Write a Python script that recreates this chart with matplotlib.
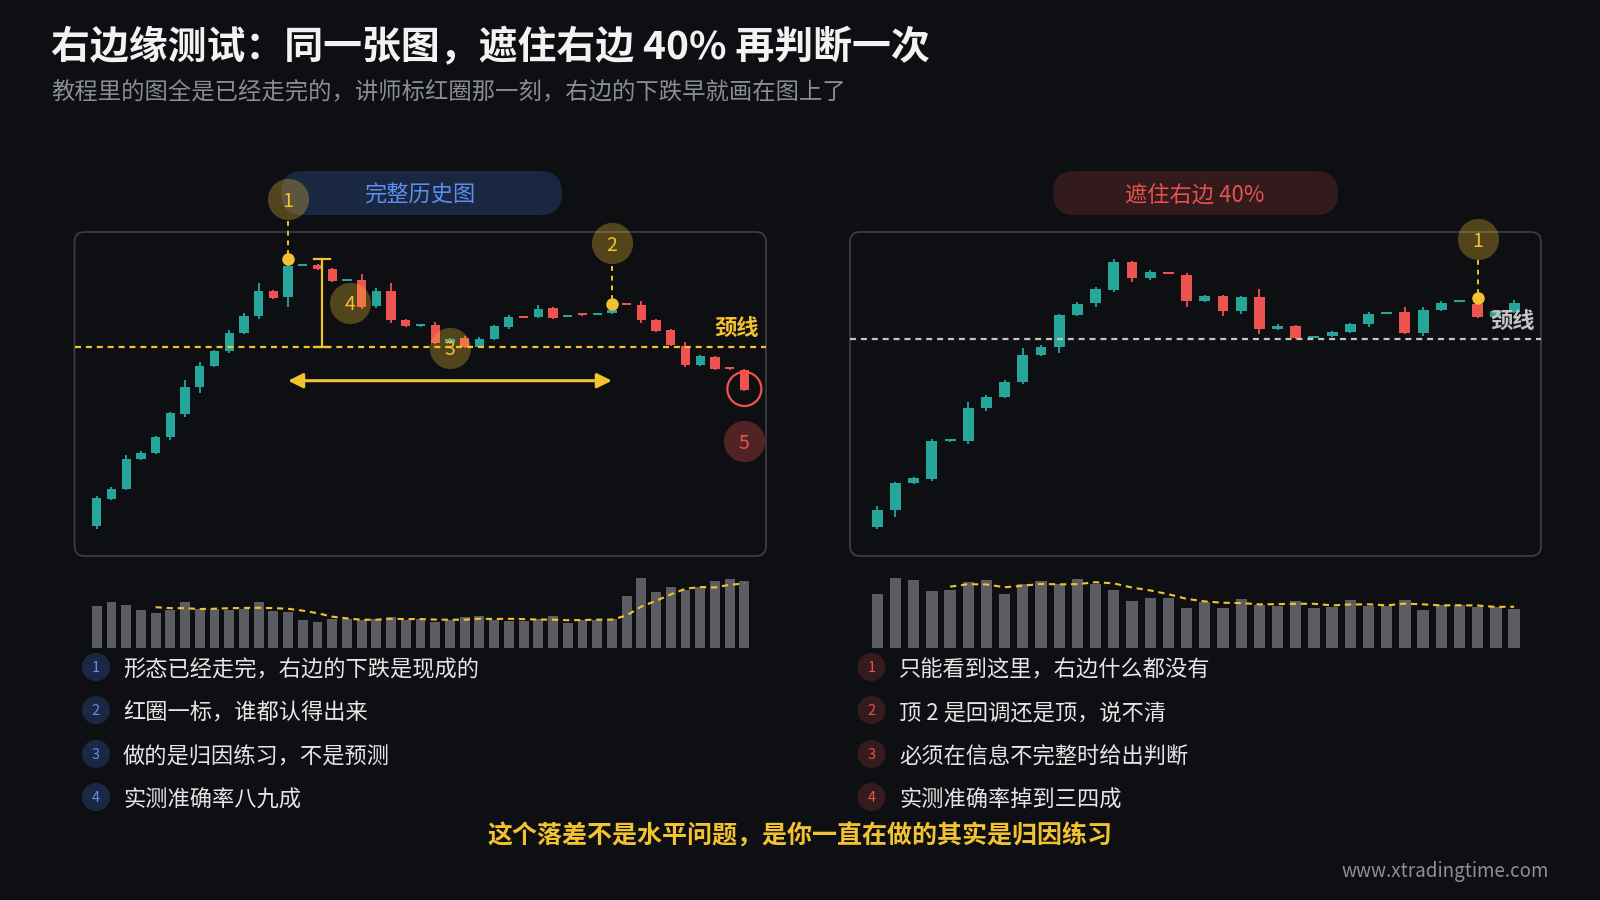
import numpy as np
import pandas as pd
import matplotlib
matplotlib.use('Agg')
import matplotlib.pyplot as plt
from matplotlib.patches import FancyBboxPatch, Circle

plt.rcParams['font.family'] = ['Noto Sans CJK SC', 'DejaVu Sans']

# ---- data: full history chart (left) ----
left_open  = [82.1, 84.8, 85.8, 88.8, 89.4, 91.0, 93.3, 96.0, 98.1, 99.6, 101.4, 103.1, 105.6, 105.0, 108.1,
              108.2, 107.8, 106.6, 106.7, 104.1, 105.6, 102.7, 102.1, 102.2, 100.4, 100.9, 100.0, 100.8, 102.0, 103.0,
              103.0, 103.9, 103.0, 103.3, 103.2, 103.4, 104.3, 104.2, 102.7, 101.7, 100.1, 98.2, 99.0, 97.9, 97.7]
left_high  = [85.1, 86.0, 89.2, 89.6, 91.1, 93.5, 96.7, 98.5, 99.7, 101.7, 103.4, 106.4, 105.7, 108.8, 108.2,
              108.3, 107.9, 106.7, 107.3, 105.9, 106.4, 102.8, 102.3, 102.5, 100.9, 101.1, 101.0, 102.2, 103.2, 103.0,
              104.2, 104.0, 103.2, 103.3, 103.4, 104.3, 104.4, 104.6, 102.8, 101.8, 100.5, 99.2, 99.1, 97.9, 97.8]
left_low   = [81.8, 84.7, 85.7, 88.7, 89.3, 90.7, 93.0, 95.4, 98.0, 99.4, 101.3, 102.8, 104.8, 104.0, 108.1,
              107.7, 106.5, 106.6, 103.8, 103.9, 102.4, 102.0, 102.0, 100.3, 100.3, 99.9, 99.9, 100.7, 101.8, 102.9,
              102.9, 102.8, 103.0, 103.1, 103.2, 103.3, 104.2, 102.4, 101.5, 100.1, 98.0, 98.1, 97.7, 97.7, 95.6]
left_close = [84.9, 85.8, 88.8, 89.4, 91.0, 93.4, 96.0, 98.1, 99.6, 101.4, 103.1, 105.6, 104.9, 108.1, 108.2,
              107.8, 106.6, 106.7, 104.0, 105.6, 102.7, 102.1, 102.2, 100.4, 100.8, 100.0, 100.8, 102.1, 103.0, 102.9,
              103.8, 102.9, 103.2, 103.2, 103.3, 103.7, 104.2, 102.7, 101.6, 100.2, 98.2, 99.1, 97.8, 97.8, 95.7]
left_volume = [127, 138, 129, 113, 105, 113, 137, 117, 117, 113, 117, 139, 112, 107, 85,
               79, 87, 87, 85, 87, 92, 83, 87, 77, 85, 93, 97, 83, 80, 80,
               87, 95, 75, 83, 85, 88, 157, 209, 168, 182, 173, 183, 202, 208, 202]
left_neckline = 100.0

# ---- data: right 40% covered chart ----
right_open  = [81.2, 82.9, 85.6, 86.0, 89.8, 89.8, 93.1, 94.2, 95.7, 98.4, 99.2, 102.4, 103.6, 104.9, 107.7, 106.1, 106.7, 106.4,
               103.8, 104.3, 102.8, 104.2, 101.0, 101.3, 100.1, 100.3, 100.7, 101.5, 102.5, 102.7, 100.6, 102.9, 103.7, 103.5, 102.2, 102.7]
right_high  = [83.3, 85.7, 86.2, 90.0, 90.0, 93.7, 94.4, 95.9, 99.1, 99.4, 102.5, 103.7, 105.2, 108.0, 107.8, 106.9, 106.7, 106.6,
               104.4, 104.4, 104.3, 105.0, 101.5, 101.4, 100.3, 100.8, 101.6, 102.7, 102.7, 103.2, 103.2, 103.8, 103.9, 104.1, 102.9, 103.9]
right_low   = [81.0, 82.2, 85.5, 85.8, 89.7, 89.5, 92.8, 94.1, 95.5, 98.3, 98.6, 102.3, 103.2, 104.7, 105.7, 105.9, 106.5, 103.2,
               103.7, 102.3, 102.5, 100.5, 100.9, 100.0, 100.1, 100.2, 100.6, 101.2, 102.5, 100.5, 100.3, 102.8, 103.7, 102.1, 102.1, 102.6]
right_close = [82.9, 85.6, 86.1, 89.8, 89.9, 93.1, 94.2, 95.7, 98.4, 99.2, 102.4, 103.5, 105.0, 107.7, 106.1, 106.7, 106.5, 103.8,
               104.3, 102.8, 104.2, 101.0, 101.3, 100.1, 100.2, 100.7, 101.5, 102.5, 102.6, 100.6, 102.9, 103.6, 103.8, 102.2, 102.8, 103.6]
right_volume = [162, 209, 204, 170, 175, 199, 205, 162, 193, 202, 193, 208, 191, 175, 140, 150, 151, 121,
                137, 119, 147, 130, 125, 142, 119, 123, 144, 127, 127, 144, 113, 128, 130, 122, 123, 116]
right_neckline = 100.0

left_notes = ['形态已经走完，右边的下跌是现成的', '红圈一标，谁都认得出来', '做的是归因练习，不是预测', '实测准确率八九成']
right_notes = ['只能看到这里，右边什么都没有', '顶 2 是回调还是顶，说不清', '必须在信息不完整时给出判断', '实测准确率掉到三四成']

BG = '#0e0f13'
TEAL = '#26a69a'
RED = '#ef5350'
YEL = '#f2c230'
W, H = 1600, 900
DY = 3  # CJK glyphs sit a little high with va='center'

fig = plt.figure(figsize=(16, 9), dpi=100, facecolor=BG)

# pixel-space overlay for frames, pills and text
bg = fig.add_axes([0, 0, 1, 1], zorder=0)
bg.set_xlim(0, W)
bg.set_ylim(H, 0)
bg.axis('off')
bg.set_facecolor(BG)


def rect(x0, y0, x1, y1):
    return [x0 / W, 1 - y1 / H, (x1 - x0) / W, (y1 - y0) / H]


def candles(ax, o, h, l, c, width):
    x = np.arange(len(o))
    o, h, l, c = map(np.array, (o, h, l, c))
    col = np.where(c >= o, TEAL, RED)
    ax.vlines(x, l, h, colors=col, lw=1.3, zorder=2)
    bottom = np.minimum(o, c)
    height = np.maximum(np.abs(c - o), 0.18)
    ax.bar(x, height, width, bottom=bottom, color=col, zorder=3)


def volume(ax, vol, width):
    x = np.arange(len(vol))
    ax.bar(x, vol, width, color='#5c5d63', zorder=2)
    ma = pd.Series(vol).rolling(5).mean()
    ax.plot(x, ma, color=YEL, lw=1.5, ls=(0, (3, 2.3)), zorder=3)


def num_circle(ax, x, y, s, face, fc, txt, size=14):
    ax.scatter([x], [y], s=s, color=face, alpha=0.3, lw=0, zorder=6, clip_on=False)
    ax.annotate(txt, (x, y), xytext=(0, -1.5), textcoords='offset points', color=fc, fontsize=size,
                ha='center', va='center', zorder=7, annotation_clip=False)


frames = [(74.5, 232, 766, 556), (850, 232, 1541, 556)]
for x0, y0, x1, y1 in frames:
    bg.add_patch(FancyBboxPatch((x0, y0), x1 - x0, y1 - y0, boxstyle='round,pad=0,rounding_size=10',
                                fc=BG, ec='#3a3c42', lw=1.3))

# pills
bg.add_patch(FancyBboxPatch((281, 171), 281, 44, boxstyle='round,pad=0,rounding_size=22', fc='#1a2740', ec='none'))
bg.text(420, 192 + DY, '完整历史图', color='#5b8ff0', fontsize=16, ha='center', va='center')
bg.add_patch(FancyBboxPatch((1053, 171), 285, 44, boxstyle='round,pad=0,rounding_size=22', fc='#331a1d', ec='none'))
bg.text(1195, 192 + DY, '遮住右边 40%', color='#e5534b', fontsize=16, ha='center', va='center')

# title
bg.text(51, 45 + DY, '右边缘测试：同一张图，遮住右边 40% 再判断一次', color='#f2f2f2', fontsize=28,
        fontweight='bold', ha='left', va='center')
bg.text(51, 89 + DY, '教程里的图全是已经走完的，讲师标红圈那一刻，右边的下跌早就画在图上了', color='#8a8d94',
        fontsize=16.8, ha='left', va='center')

# ---- left price chart ----
axl = fig.add_axes(rect(74.5, 232, 766, 556), zorder=2)
axl.set_facecolor('none')
axl.axis('off')
axl.set_xlim(-1.51, 45.47)
axl.set_ylim(79.07, 111.47)
candles(axl, left_open, left_high, left_low, left_close, 0.63)
axl.axhline(left_neckline, color=YEL, lw=1.6, ls=(0, (2.7, 2.2)), zorder=4)
axl.text(43.5, 101.8, '颈线', color=YEL, fontsize=16, fontweight='bold', ha='center', va='center', zorder=5)

peak1, peak2 = 13, 35
axl.scatter([peak1, peak2], [left_high[peak1], left_high[peak2]], s=64, color=YEL, zorder=8)
axl.plot([peak1, peak1], [112.6, left_high[peak1] + 0.5], color=YEL, lw=1.4, ls=(0, (2.5, 2.5)), zorder=5, clip_on=False)
axl.plot([peak2, peak2], [108.1, left_high[peak2] + 0.5], color=YEL, lw=1.4, ls=(0, (2.5, 2.5)), zorder=5, clip_on=False)
num_circle(axl, peak1, 114.77, 880, YEL, YEL, '1')
num_circle(axl, peak2, 110.37, 880, YEL, YEL, '2')
num_circle(axl, 17.2, 104.4, 880, YEL, YEL, '4')
num_circle(axl, 24.0, 99.9, 880, YEL, YEL, '3')
num_circle(axl, 44, 90.57, 880, RED, RED, '5')

# height bracket
bx = 15.29
axl.plot([bx, bx], [left_high[peak1], left_neckline], color=YEL, lw=1.6, zorder=5)
axl.plot([bx - 0.55, bx + 0.55], [left_high[peak1]] * 2, color=YEL, lw=1.6, zorder=5)
axl.plot([bx - 0.55, bx + 0.55], [left_neckline] * 2, color=YEL, lw=1.6, zorder=5)

# width arrow
axl.annotate('', xy=(peak2, 96.6), xytext=(peak1, 96.6),
             arrowprops=dict(arrowstyle='<|-|>', color=YEL, lw=2.2, mutation_scale=22,
                             shrinkA=0, shrinkB=0), zorder=5)

# red ring on last candle
axl.scatter([44], [95.77], s=600, facecolors='none', edgecolors=RED, linewidths=1.6, zorder=6)

# ---- right price chart ----
axr = fig.add_axes(rect(850, 232, 1541, 556), zorder=2)
axr.set_facecolor('none')
axr.axis('off')
axr.set_xlim(-1.5, 36.48)
axr.set_ylim(78.3, 110.7)
candles(axr, right_open, right_high, right_low, right_close, 0.6)
axr.axhline(right_neckline, color='#c4c4c4', lw=1.6, ls=(0, (2.7, 2.2)), zorder=4)
axr.text(34.9, 101.8, '颈线', color='#c4c4c4', fontsize=16, fontweight='bold', ha='center', va='center', zorder=5)
rp = 33
axr.scatter([rp], [right_high[rp]], s=64, color=YEL, zorder=8)
axr.plot([rp, rp], [107.9, right_high[rp] + 0.5], color=YEL, lw=1.4, ls=(0, (2.5, 2.5)), zorder=5, clip_on=False)
num_circle(axr, rp, 110.0, 880, YEL, YEL, '1')

# ---- volume ----
vl = fig.add_axes(rect(74.5, 560, 766, 648), zorder=2)
vl.set_facecolor('none')
vl.axis('off')
vl.set_xlim(-1.51, 45.47)
vl.set_ylim(0, 264)
volume(vl, left_volume, 0.67)

vr = fig.add_axes(rect(850, 560, 1541, 648), zorder=2)
vr.set_facecolor('none')
vr.axis('off')
vr.set_xlim(-1.5, 36.48)
vr.set_ylim(0, 264)
volume(vr, right_volume, 0.62)

# ---- notes ----
rows = [667, 710, 754, 797]
for i, y in enumerate(rows):
    bg.add_patch(Circle((96, y), 14, fc='#1b2844', ec='none'))
    bg.text(96, y + 1, str(i + 1), color='#5b8ff0', fontsize=10.5, ha='center', va='center')
    bg.text(123, y + DY, left_notes[i], color='#e6e6e6', fontsize=16, ha='left', va='center')
    bg.add_patch(Circle((871.5, y), 14, fc='#361b1e', ec='none'))
    bg.text(871.5, y + 1, str(i + 1), color='#e5534b', fontsize=10.5, ha='center', va='center')
    bg.text(899, y + DY, right_notes[i], color='#e6e6e6', fontsize=16, ha='left', va='center')

bg.text(800, 833 + DY, '这个落差不是水平问题，是你一直在做的其实是归因练习', color=YEL, fontsize=18,
        fontweight='bold', ha='center', va='center')
bg.text(1549, 870 + 1, 'www.xtradingtime.com', color='#8d8f94', fontsize=13.5, ha='right', va='center')

fig.savefig('out.png', dpi=100, facecolor=BG)
